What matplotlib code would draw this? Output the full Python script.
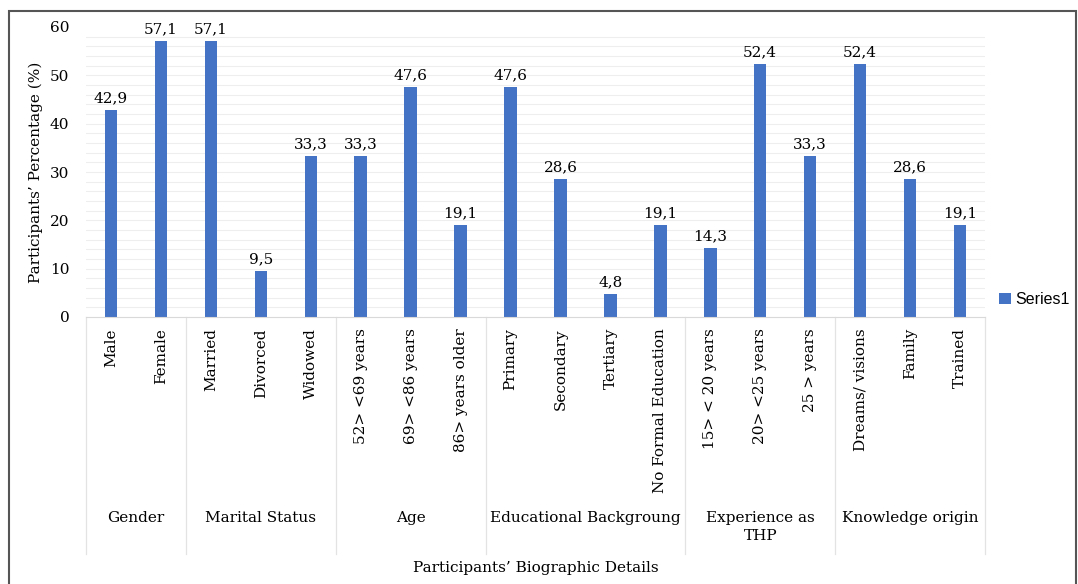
import numpy as np
import matplotlib.pyplot as plt
from matplotlib.patches import Rectangle
from matplotlib.transforms import blended_transform_factory

# data
groups = ['Gender', 'Marital Status', 'Age', 'Educational Backgroung',
          'Experience as\nTHP', 'Knowledge origin']
categories = [
    ['Male', 'Female'],
    ['Married', 'Divorced', 'Widowed'],
    ['52> <69 years', '69> <86 years', '86> years older'],
    ['Primary', 'Secondary', 'Tertiary', 'No Formal Education'],
    ['15> < 20 years', '20> <25 years', '25 > years'],
    ['Dreams/ visions', 'Family', 'Trained'],
]
values = [
    [42.9, 57.1],
    [57.1, 9.5, 33.3],
    [33.3, 47.6, 19.1],
    [47.6, 28.6, 4.8, 19.1],
    [14.3, 52.4, 33.3],
    [52.4, 28.6, 19.1],
]

labels = [c for g in categories for c in g]
vals = [v for g in values for v in g]
x = np.arange(len(vals))

plt.rcParams['font.family'] = ['DejaVu Serif']
fs = 11

fig = plt.figure(figsize=(10.78, 5.84), dpi=100)
ax = fig.add_axes([86/1078, 1 - 317/584, (985-86)/1078, 290/584])

# light grid every 2 units
for yv in np.arange(2, 59, 2):
    ax.axhline(yv, color='#eeeeee', lw=0.8, zorder=0)

bars = ax.bar(x, vals, width=0.25, color='#4472c4', zorder=2, label='Series1')
for xi, v in zip(x, vals):
    ax.text(xi, v + 1.0, f'{v:.1f}'.replace('.', ','), ha='center', va='bottom', fontsize=fs)

ax.set_xlim(-0.5, len(vals) - 0.5)
ax.set_ylim(0, 60)
ax.set_yticks(range(0, 61, 10))
ax.tick_params(axis='y', length=0, labelsize=fs, pad=12)
ax.set_xticks([])
for s in ['top', 'right', 'left']:
    ax.spines[s].set_visible(False)
ax.spines['bottom'].set_color('#d9d9d9')
ax.set_ylabel('Participants’ Percentage (%)', fontsize=fs, labelpad=5)

tr = blended_transform_factory(ax.transData, ax.transAxes)
for xi, lab in zip(x, labels):
    ax.text(xi, -0.038, lab, rotation=90, ha='center', va='top', fontsize=fs,
            transform=tr)

# group separators and group labels
start = 0
bounds = [-0.5]
for g, cats in zip(groups, categories):
    n = len(cats)
    center = start + (n - 1) / 2
    ax.text(center, -0.67, g, ha='center', va='top', fontsize=fs,
            transform=tr, linespacing=1.3)
    start += n
    bounds.append(start - 0.5)
for b in bounds:
    ax.plot([b, b], [0, -0.817], transform=tr, color='#e3e3e3', lw=0.9,
            clip_on=False)

ax.text(0.5, -0.866, 'Participants’ Biographic Details', ha='center', va='center',
        fontsize=fs, transform=ax.transAxes)

leg = ax.legend(loc='center left', bbox_to_anchor=(1.0, 0.059), frameon=False,
                handlelength=0.7, handleheight=0.7, handletextpad=0.3,
                prop={'family': 'Liberation Sans', 'size': 11.5})

# outer frame
fig.patches.append(Rectangle((9/1078, -0.01), (1076-9)/1078, 1 - 11/584 + 0.01,
                             transform=fig.transFigure, fill=False,
                             edgecolor='#555555', lw=1.5))

fig.savefig('out.png', dpi=100)
